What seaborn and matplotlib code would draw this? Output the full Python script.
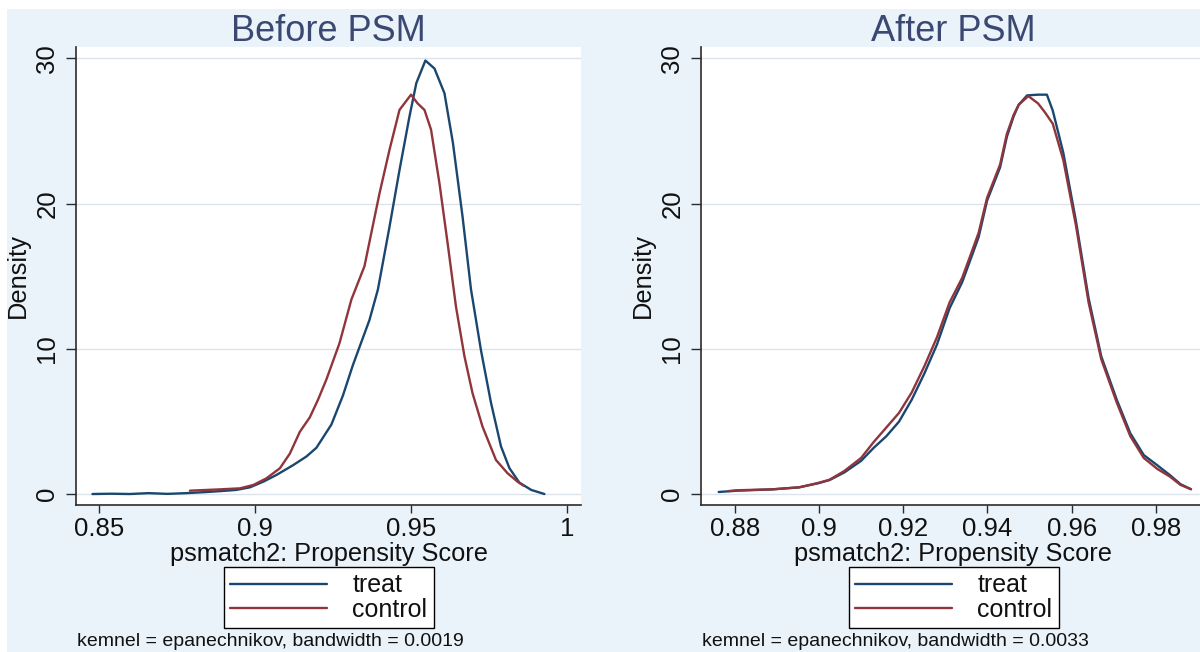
import numpy as np
import pandas as pd
import matplotlib
matplotlib.use("Agg")
import matplotlib.pyplot as plt
from matplotlib.patches import Rectangle
import seaborn as sns

# ---------------- data ----------------
titles = ["Before PSM", "After PSM"]
series_names = ["treat", "control"]
notes = ["kemnel = epanechnikov, bandwidth = 0.0019",
         "kemnel = epanechnikov, bandwidth = 0.0033"]
xlabel = "psmatch2: Propensity Score"
ylabel = "Density"

before_treat_x = [0.848, 0.854, 0.860, 0.866, 0.872, 0.878, 0.884, 0.889, 0.894, 0.8984,
                  0.9027, 0.9069, 0.9122, 0.9165, 0.9197, 0.9245, 0.9282, 0.9314, 0.9367,
                  0.9394, 0.9431, 0.9463, 0.9495, 0.9517, 0.9546, 0.9575, 0.9607, 0.9634,
                  0.9665, 0.9692, 0.9724, 0.9756, 0.9788, 0.9815, 0.9847, 0.9885, 0.9927]
before_treat_y = [0.02, 0.04, 0.02, 0.08, 0.03, 0.08, 0.15, 0.22, 0.30, 0.48,
                  0.87, 1.33, 2.0, 2.6, 3.2, 4.8, 6.8, 8.9, 12.0,
                  14.1, 18.4, 22.3, 26.0, 28.3, 29.85, 29.3, 27.6, 24.2,
                  19.1, 14.1, 9.9, 6.3, 3.3, 1.8, 0.8, 0.3, 0.02]

before_control_x = [0.8792, 0.8888, 0.8952, 0.8995, 0.9037, 0.9080, 0.9112, 0.9144, 0.9176,
                    0.9202, 0.9229, 0.9271, 0.9309, 0.9351, 0.9373, 0.9399, 0.9431, 0.9463,
                    0.9500, 0.9521, 0.9543, 0.9564, 0.9591, 0.9617, 0.9644, 0.9671, 0.9697,
                    0.9729, 0.9772, 0.9809, 0.9841, 0.9860]
before_control_y = [0.25, 0.34, 0.41, 0.64, 1.1, 1.79, 2.8, 4.3, 5.3,
                    6.5, 7.9, 10.4, 13.4, 15.7, 18.0, 20.7, 23.7, 26.45,
                    27.5, 26.9, 26.45, 25.1, 21.4, 17.3, 12.9, 9.5, 6.95,
                    4.65, 2.36, 1.45, 0.87, 0.6]

after_treat_x = [0.8762, 0.8807, 0.8889, 0.8953, 0.8998, 0.9025, 0.906, 0.910, 0.913, 0.916,
                 0.919, 0.922, 0.925, 0.928, 0.931, 0.934, 0.9359, 0.9379, 0.9399, 0.943,
                 0.9446, 0.9462, 0.9474, 0.9494, 0.952, 0.9541, 0.9555, 0.958, 0.961, 0.964,
                 0.967, 0.9707, 0.9739, 0.9771, 0.9803, 0.9834, 0.9858, 0.9883]
after_treat_y = [0.16, 0.25, 0.34, 0.48, 0.76, 0.98, 1.5, 2.3, 3.2, 4.0,
                 5.0, 6.5, 8.3, 10.3, 12.8, 14.6, 16.1, 17.7, 20.2, 22.5,
                 24.6, 26.0, 26.8, 27.45, 27.5, 27.5, 26.4, 23.5, 18.8, 13.5,
                 9.5, 6.5, 4.2, 2.7, 2.0, 1.3, 0.7, 0.35]

after_control_x = [0.8785, 0.8807, 0.8889, 0.8953, 0.8998, 0.9025, 0.906, 0.910, 0.913, 0.916,
                   0.919, 0.922, 0.925, 0.928, 0.931, 0.934, 0.9359, 0.9379, 0.9399, 0.943,
                   0.9446, 0.9462, 0.9474, 0.9497, 0.952, 0.9536, 0.9555, 0.958, 0.961, 0.964,
                   0.967, 0.9707, 0.9739, 0.9771, 0.9803, 0.9834, 0.9858, 0.9883]
after_control_y = [0.22, 0.28, 0.34, 0.48, 0.78, 1.0, 1.6, 2.5, 3.6, 4.6,
                   5.6, 7.0, 8.8, 10.8, 13.2, 14.9, 16.4, 18.0, 20.4, 22.7,
                   24.8, 26.1, 26.8, 27.4, 26.9, 26.3, 25.5, 23.0, 18.5, 13.2,
                   9.3, 6.3, 4.0, 2.5, 1.75, 1.2, 0.65, 0.35]

before_xticks = [0.85, 0.9, 0.95, 1.0]
before_xticklabels = ["0.85", "0.9", "0.95", "1"]
after_xticks = [0.88, 0.90, 0.92, 0.94, 0.96, 0.98]
after_xticklabels = ["0.88", "0.9", "0.92", "0.94", "0.96", "0.98"]
yticks = [0, 10, 20, 30]
yticklabels = ["0", "10", "20", "30"]

# ---------------- style ----------------
sns.set_style("white")
plt.rcParams['font.family'] = ['Liberation Sans', 'DejaVu Sans']

BG = "#EAF3FA"
TREAT = "#1A476F"
CONTROL = "#90353B"
TITLE_C = "#3A4872"
GRID_C = "#DCE3EA"
AXIS_C = "#2B2B2B"
TEXT_C = "#111111"
palette = {"treat": TREAT, "control": CONTROL}

W, H = 1200, 652
fig = plt.figure(figsize=(W / 100, H / 100), dpi=100, facecolor="white")
fig.patches.append(Rectangle((7 / W, 0), 1, 1 - 9 / H, transform=fig.transFigure,
                             facecolor=BG, edgecolor="none", zorder=-10))

panels = [
    dict(left=76, tx=before_treat_x, ty=before_treat_y, cx=before_control_x, cy=before_control_y,
         xlim=(0.84273, 1.00442), xticks=before_xticks, xtl=before_xticklabels),
    dict(left=701, tx=after_treat_x, ty=after_treat_y, cx=after_control_x, cy=after_control_y,
         xlim=(0.8720, 0.99187), xticks=after_xticks, xtl=after_xticklabels),
]

ax_w = 505 / W
ax_b = 1 - 505 / H
ax_h = (505 - 47) / H

for i, p in enumerate(panels):
    ax = fig.add_axes([p["left"] / W, ax_b, ax_w, ax_h])
    ax.set_facecolor("white")
    df = pd.concat([
        pd.DataFrame({"x": p["tx"], "y": p["ty"], "group": "treat"}),
        pd.DataFrame({"x": p["cx"], "y": p["cy"], "group": "control"}),
    ], ignore_index=True)
    sns.lineplot(data=df, x="x", y="y", hue="group", hue_order=series_names,
                 palette=palette, estimator=None, sort=False, linewidth=1.7, ax=ax)
    ax.set_xlim(*p["xlim"])
    ax.set_ylim(-0.736, 30.78)
    ax.set_yticks(yticks)
    ax.set_yticklabels(yticklabels, rotation=90, va="center")
    ax.set_xticks(p["xticks"])
    ax.set_xticklabels(p["xtl"])
    for yv in yticks:
        ax.axhline(yv, color=GRID_C, lw=1.0, zorder=0)
    for s in ["top", "right"]:
        ax.spines[s].set_visible(False)
    for s in ["left", "bottom"]:
        ax.spines[s].set_color(AXIS_C)
        ax.spines[s].set_linewidth(1.2)
    ax.tick_params(axis="y", direction="out", length=7, width=1.0, color=AXIS_C,
                   labelsize=18.5, pad=5, left=True, labelcolor=TEXT_C)
    ax.tick_params(axis="x", direction="out", length=6, width=1.0, color=AXIS_C,
                   labelsize=18.5, pad=3, bottom=True, labelcolor=TEXT_C)
    ax.set_xlabel(xlabel, fontsize=18.3, labelpad=0, color=TEXT_C)
    ax.set_ylabel(ylabel, fontsize=18.3, labelpad=4, color=TEXT_C)
    ax.set_title(titles[i], fontsize=26, color=TITLE_C, pad=4)

    cx = (p["left"] + 252.5) / W
    leg = ax.legend(loc="upper center", bbox_to_anchor=(cx, 1 - 567 / H),
                    bbox_transform=fig.transFigure, fontsize=18, frameon=True,
                    fancybox=False, edgecolor="black", facecolor="white", framealpha=1,
                    handlelength=3.9, handletextpad=1.0, labelspacing=0.02,
                    borderpad=0.25, borderaxespad=0, title=None)
    leg.get_frame().set_linewidth(1.0)
    for t in leg.get_texts():
        t.set_color(TEXT_C)
    fig.text((p["left"] + 1) / W, 1 - 642 / H, notes[i], fontsize=14, va="center",
             ha="left", color=TEXT_C)

fig.savefig("out.png", dpi=100, facecolor=fig.get_facecolor())
